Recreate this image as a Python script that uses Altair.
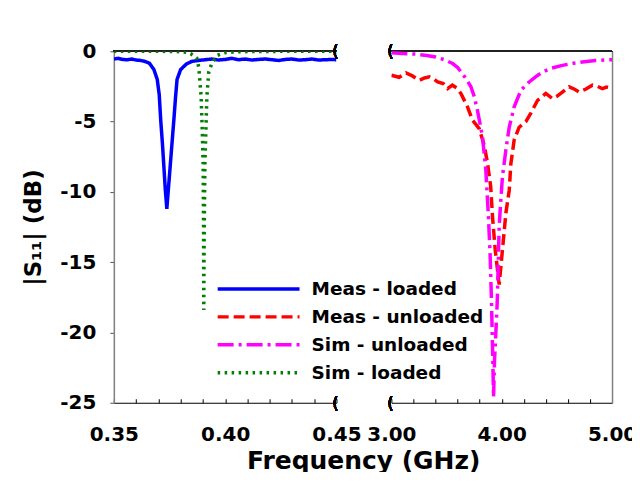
import altair as alt
import pandas as pd

# ---------------- data ----------------
# Left panel (GHz), 0.35 - 0.45
f_meas_loaded = [0.350, 0.352, 0.354, 0.356, 0.358, 0.360, 0.362, 0.364, 0.366, 0.368,
                 0.3695, 0.3704, 0.3711, 0.3718, 0.3724, 0.3731, 0.3738, 0.3746, 0.3754, 0.3762,
                 0.3769, 0.3777, 0.3784, 0.380, 0.3826, 0.385, 0.388, 0.391, 0.394, 0.397,
                 0.400, 0.403, 0.406, 0.409, 0.412, 0.415, 0.418, 0.421, 0.424, 0.427,
                 0.430, 0.433, 0.436, 0.439, 0.442, 0.445, 0.448, 0.450]
db_meas_loaded = [-0.55, -0.5, -0.58, -0.6, -0.55, -0.62, -0.65, -0.72, -0.85, -1.3,
                  -2.0, -3.1, -5.0, -6.5, -8.0, -9.8, -11.2, -9.6, -8.0, -6.4,
                  -5.0, -3.3, -2.0, -1.3, -0.9, -0.72, -0.65, -0.6, -0.55, -0.62,
                  -0.58, -0.5, -0.6, -0.55, -0.62, -0.58, -0.55, -0.6, -0.65, -0.58,
                  -0.55, -0.62, -0.6, -0.55, -0.62, -0.6, -0.58, -0.6]

f_sim_loaded = [0.350, 0.355, 0.360, 0.365, 0.370, 0.375, 0.380, 0.383, 0.3848, 0.3862,
                0.3873, 0.3882, 0.3892, 0.3897, 0.3901, 0.3903, 0.3904, 0.3905, 0.3906, 0.3909,
                0.3918, 0.3926, 0.3940, 0.3966, 0.400, 0.405, 0.410, 0.420, 0.430, 0.440,
                0.450]
db_sim_loaded = [0, 0, 0, 0, 0, -0.01, -0.03, -0.08, -0.2, -0.35,
                 -0.5, -1.2, -3.2, -5.5, -8.0, -12.7, -18.4, -15.0, -12.7, -8.0,
                 -3.2, -1.5, -0.85, -0.28, -0.1, -0.04, -0.02, -0.01, 0, 0,
                 0]

# Right panel (GHz), 3.00 - 5.00
f_meas_unloaded = [3.00, 3.07, 3.133, 3.19, 3.253, 3.30, 3.344, 3.38, 3.42, 3.47,
                   3.51, 3.552, 3.59, 3.63, 3.69, 3.735, 3.796, 3.842, 3.872, 3.90,
                   3.917, 3.941, 3.977, 4.007, 4.038, 4.068, 4.083, 4.113, 4.158, 4.219,
                   4.264, 4.324, 4.40, 4.46, 4.50, 4.55, 4.611, 4.66, 4.701, 4.76,
                   4.822, 4.87, 4.912, 4.95, 5.00]
db_meas_unloaded = [-1.7, -1.85, -1.54, -1.75, -2.06, -1.9, -1.82, -1.95, -2.18, -2.3,
                    -2.65, -2.41, -2.6, -3.0, -3.95, -4.9, -5.5, -6.7, -8.0, -9.6,
                    -11.8, -14.1, -16.6, -14.1, -11.5, -9.9, -8.0, -6.3, -5.4, -5.0,
                    -4.4, -3.5, -3.0, -3.36, -3.2, -2.9, -2.53, -2.7, -2.89, -2.7,
                    -2.41, -2.5, -2.65, -2.55, -2.65]

f_sim_unloaded = [3.00, 3.10, 3.22, 3.32, 3.40, 3.48, 3.555, 3.60, 3.645, 3.68,
                  3.72, 3.75, 3.78, 3.80, 3.826, 3.856, 3.88, 3.895, 3.907, 3.918,
                  3.926, 3.935, 3.95, 3.96, 3.977, 3.99, 4.007, 4.038, 4.068, 4.113,
                  4.174, 4.249, 4.31, 4.37, 4.45, 4.55, 4.65, 4.73, 4.85, 5.00]
db_sim_unloaded = [-0.1, -0.15, -0.2, -0.3, -0.4, -0.6, -0.87, -1.15, -1.6, -2.0,
                   -2.5, -3.2, -4.2, -5.0, -6.1, -8.45, -11.8, -14.5, -17.7, -21.5,
                   -24.6, -22.0, -19.5, -17.7, -12.5, -10.8, -8.9, -7.0, -5.4, -3.95,
                   -2.77, -2.18, -1.8, -1.47, -1.2, -1.0, -0.85, -0.76, -0.65, -0.6]

SERIES = ["Meas - loaded", "Meas - unloaded", "Sim - unloaded", "Sim - loaded"]
COLORS = ["#0000ff", "#ff0000", "#ff00ff", "#008000"]
DASHES = [[1, 0], [11, 5], [16, 5, 3, 5], [2.5, 4.5]]

left_ticks_major = [0.35, 0.40, 0.45]
left_ticks_minor = [0.35, 0.36, 0.37, 0.38, 0.39, 0.40, 0.41, 0.42, 0.43, 0.44, 0.45]
right_ticks_major = [3.0, 4.0, 5.0]
right_ticks_minor = [3.0, 3.2, 3.4, 3.6, 3.8, 4.0, 4.2, 4.4, 4.6, 4.8, 5.0]
y_ticks = [0, -5, -10, -15, -20, -25]


def frame(f, db, name):
    return pd.DataFrame({"f": f, "db": db, "series": name})


left_df = pd.concat([frame(f_meas_loaded, db_meas_loaded, SERIES[0]),
                     frame(f_sim_loaded, db_sim_loaded, SERIES[3])], ignore_index=True)
right_df = pd.concat([frame(f_meas_unloaded, db_meas_unloaded, SERIES[1]),
                      frame(f_sim_unloaded, db_sim_unloaded, SERIES[2])], ignore_index=True)

FONT = "DejaVu Sans"
W_L, W_R, H = 223, 221, 352

legend = alt.Legend(title=None, orient="none", legendX=102, legendY=229,
                    symbolType="stroke", symbolSize=6724, clipHeight=18,
                    symbolStrokeWidth=3.5, labelFont=FONT, labelFontWeight="bold",
                    labelFontSize=18.5, labelColor="black", labelOffset=10,
                    rowPadding=9, padding=0, labelLimit=400)

color = alt.Color("series:N", scale=alt.Scale(domain=SERIES, range=COLORS), legend=legend)
dash = alt.StrokeDash("series:N", scale=alt.Scale(domain=SERIES, range=DASHES), legend=legend)
yscale = alt.Scale(domain=[-25, 0], nice=False, zero=False)

label_style = dict(labelFont=FONT, labelFontWeight="bold", labelFontSize=20, labelColor="black")


def bottom_axis(values):
    return alt.Axis(values=values, format=".2f", ticks=False, tickSize=0, domainColor="black",
                    domainWidth=1.2, labelPadding=22, labelFlush=False, labelOverlap=False,
                    grid=False, title=None, **label_style)


def inner_tick_axis(values):
    return alt.Axis(orient="top", offset=-H, domain=False, labels=False, ticks=True,
                    tickSize=4, tickColor="black", tickWidth=1, values=values,
                    grid=False, title=None)


def panel(df, xdom, major, minor, yaxis, brk_x, width):
    xs = alt.Scale(domain=xdom, nice=False, zero=False)
    base = alt.Chart(df)
    ych = alt.Y("db:Q", scale=yscale, axis=yaxis)
    lines = base.mark_line(strokeWidth=3.5, clip=True).encode(
        x=alt.X("f:Q", scale=xs, axis=bottom_axis(major)),
        y=ych, color=color, strokeDash=dash, detail="series:N", order="f:Q")
    ticks = base.mark_line(opacity=0).encode(
        x=alt.X("f:Q", scale=xs, axis=inner_tick_axis(minor)), y=ych, detail="series:N")
    border = base.mark_rule(color="#222222", strokeWidth=1.2).encode(
        y=alt.YDatum(0, axis=yaxis, scale=yscale))
    brk_top = base.mark_text(text="(", font=FONT, fontSize=15, color="black",
                             baseline="middle", dx=-1).encode(
        x=alt.XDatum(brk_x, axis=None, scale=xs),
        y=alt.YDatum(0, axis=yaxis, scale=yscale))
    brk_bot = base.mark_text(text="(", font=FONT, fontSize=15, color="black",
                             baseline="middle", dx=-1).encode(
        x=alt.XDatum(brk_x, axis=None, scale=xs),
        y=alt.YDatum(-25, axis=yaxis, scale=yscale))
    return alt.layer(border, lines, ticks, brk_top, brk_bot).resolve_axis(
        x="independent").properties(width=width, height=H)


left_y = alt.Axis(values=y_ticks, labelExpr="toString(datum.value)",
                  domainColor="#808080", domainWidth=1.5, tickColor="#555555",
                  tickSize=4, tickWidth=1, labelPadding=14, grid=False,
                  title="|S₁₁| (dB)", titleFont=FONT, titleFontWeight="bold",
                  titleFontSize=23, titleColor="black", titlePadding=14, **label_style)
right_y = alt.Axis(orient="right", domainColor="#808080", domainWidth=1.5, ticks=False,
                   labels=False, grid=False, title=None)

left = panel(left_df, [0.35, 0.45], left_ticks_major, left_ticks_minor, left_y, 0.45, W_L)
right = panel(right_df, [3.0, 5.0], right_ticks_major, right_ticks_minor, right_y, 3.0, W_R)

chart = alt.hconcat(left, right, spacing=55, bounds="flush").resolve_scale(
    x="independent", y="independent", color="shared", strokeDash="shared"
).properties(
    padding={"left": 14, "top": 33, "right": -5, "bottom": -2},
    title=alt.TitleParams("Frequency (GHz)", orient="bottom", anchor="middle", frame="bounds",
                          dx=34, font=FONT, fontSize=25, fontWeight="bold", color="black",
                          offset=4),
).configure(background="white").configure_view(stroke="transparent", strokeWidth=0)

chart.save("out.html", embed_options={"renderer": "svg", "actions": False})
